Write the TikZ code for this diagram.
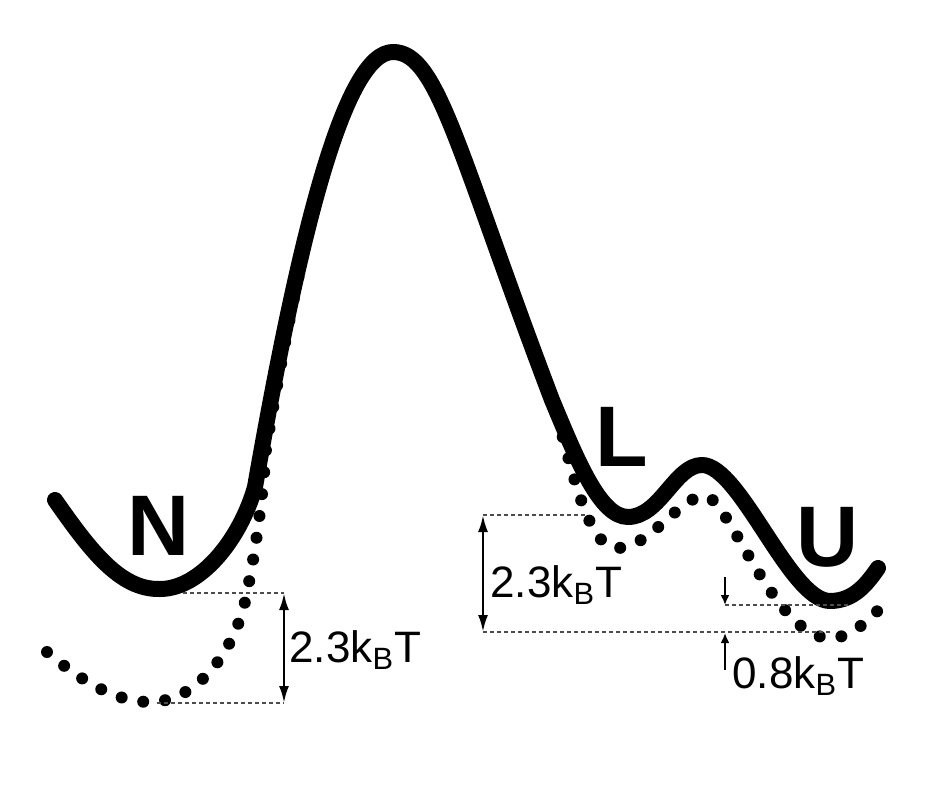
\documentclass[tikz,border=0pt]{standalone}
\usepackage{fontspec}
\setmainfont{Liberation Sans}
\usetikzlibrary {arrows.meta, positioning, calc}
\tikzset{
    >={Latex[length=8.5pt, width=5pt]},
    well/.style={line width=8pt, line cap=round, line join=round},
    dots/.style={line width=6pt, line cap=round, dash pattern=on 0pt off 11pt},
    level/.style={gray!60!black, line width=0.6pt, dash pattern=on 2pt off 1.5pt},
    gap/.style={line width=1.3pt},
    tiny/.style={line width=1.3pt, -{Latex[length=5pt, width=4.5pt]}},
    state/.style={font=\fontsize{43}{43}\bfseries\selectfont, inner sep=0pt},
    energy/.style={font=\fontsize{22}{22}\selectfont, inner sep=0pt, anchor=west}
}

\begin{document}
\begin{tikzpicture}[x=0.5pt, y=-0.5pt]
    \useasboundingbox (0, 0) rectangle (935, 790);
    % dotted landscape
    \draw [dots] (47,652) .. controls (80,680) and (115,702) .. (150,702)
        .. controls (200,702) and (238,645) .. (247,592)
        .. controls (258,540) and (264,480) .. (266,449)
        .. controls (303,230) and (345,52) .. (393,52)
        .. controls (438,52) and (457,150) .. (552,400)
        .. controls (570,455) and (585,548) .. (617,548)
        .. controls (650,548) and (680,496) .. (705,496)
        .. controls (728,496) and (775,640) .. (831,638)
        .. controls (855,638) and (875,612) .. (890,599);
    % solid landscape
    \draw [well] (55,500) .. controls (90,550) and (120,590) .. (160,589)
        .. controls (200,589) and (240,540) .. (255,487)
        .. controls (300,230) and (345,52) .. (393,52)
        .. controls (438,52) and (457,150) .. (552,400)
        .. controls (577,460) and (600,517) .. (628,517)
        .. controls (660,517) and (675,465) .. (702,465)
        .. controls (740,465) and (790,601) .. (830,601)
        .. controls (855,601) and (868,582) .. (878,568);
    % states
    \node [state] (N) at (159, 526) {N};
    \node [state] (L) at (622, 437) {L};
    \node [state] (U) at (828, 537) {U};
    % levels
    \coordinate (nHi) at (183, 593);
    \coordinate (nLo) at (157, 703);
    \coordinate (nHiR) at (284, 593);
    \coordinate (nLoR) at (284, 703);
    \coordinate (lHi) at (587, 515);
    \coordinate (lHiL) at (483, 515);
    \coordinate (lLoL) at (483, 632);
    \coordinate (uLo) at (833, 632);
    \coordinate (uHi) at (850, 605);
    \coordinate (uHiL) at (725, 605);
    \coordinate (uTop) at (725, 577);
    \coordinate (uMid) at (725, 633);
    \coordinate (uBot) at (725, 670);
    \draw [level] (nHi) -- (nHiR);
    \draw [level] (nLo) -- (nLoR);
    \draw [level] (lHiL) -- (lHi);
    \draw [level] (lLoL) -- (uLo);
    \draw [level] (uHiL) -- (uHi);
    % gaps
    \draw [gap, <->] (nHiR) -- (nLoR);
    \draw [gap, <->] (lHiL) -- (lLoL);
    \draw [tiny] (uTop) -- (uHiL);
    \draw [tiny] (uBot) -- (uMid);
    \node [energy] (dN) at (289, 650) {2.3k\textsubscript{B}T};
    \node [energy] (dL) at (490, 585) {2.3k\textsubscript{B}T};
    \node [energy] (dU) at (732, 676) {0.8k\textsubscript{B}T};
\end{tikzpicture}
\end{document}
